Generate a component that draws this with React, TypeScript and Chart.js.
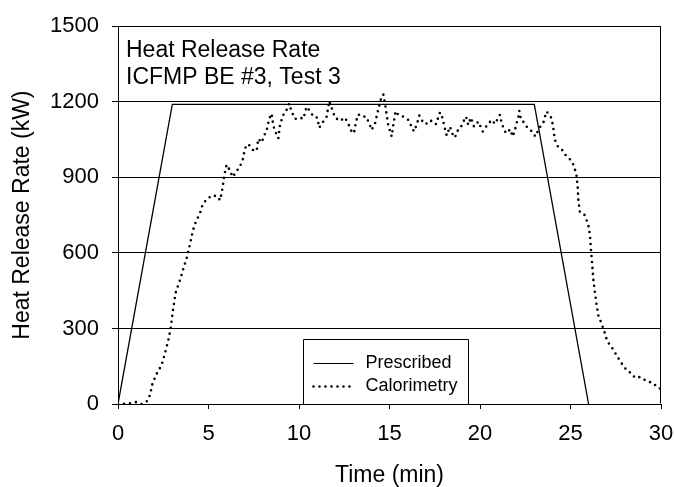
import React, { useEffect, useRef } from "react";
import { Chart, registerables } from "chart.js";

Chart.register(...registerables);

const FONT = 'Arial, "Liberation Sans", sans-serif';

// Prescribed heat release rate (kW) vs time (min)
const prescribedTime = [0, 3, 23, 26];
const prescribedHRR = [0, 1190, 1190, 0];

// Calorimetry heat release rate (kW) vs time (min)
const calTime = [
  0, 0.2, 0.6, 1.03, 1.3, 1.62, 1.77, 1.91, 2.05, 2.19, 2.41, 2.6, 2.78, 2.91, 3.06, 3.19,
  3.43, 3.61, 3.83, 3.98, 4.13, 4.31, 4.53, 4.62, 4.81, 5.17, 5.49, 5.64, 5.78, 5.86, 6.0,
  6.19, 6.33, 6.55, 6.74, 6.89, 7.02, 7.2, 7.44, 7.66, 7.75, 7.94, 8.07, 8.21, 8.36, 8.49,
  8.58, 8.71, 8.86, 8.95, 9.13, 9.23, 9.35, 9.46, 9.59, 9.78, 10.06, 10.24, 10.42, 10.64,
  10.79, 11.01, 11.12, 11.31, 11.53, 11.67, 11.8, 11.99, 12.27, 12.54, 12.73, 12.91, 13.04,
  13.15, 13.28, 13.46, 13.7, 13.89, 14.01, 14.2, 14.34, 14.51, 14.66, 14.77, 14.93, 15.12,
  15.21, 15.34, 15.49, 15.76, 16.04, 16.22, 16.35, 16.5, 16.65, 16.83, 17.02, 17.14, 17.38,
  17.57, 17.79, 17.94, 18.01, 18.16, 18.34, 18.49, 18.62, 18.71, 18.9, 19.08, 19.23, 19.35,
  19.5, 19.67, 19.91, 20.15, 20.4, 20.65, 20.83, 20.96, 21.1, 21.2, 21.38, 21.51, 21.66,
  21.81, 21.93, 22.03, 22.12, 22.17, 22.27, 22.39, 22.58, 22.76, 22.94, 23.06, 23.27, 23.5,
  23.59, 23.68, 23.83, 23.96, 24.05, 24.14, 24.27, 24.51, 24.7, 24.93, 25.16, 25.25, 25.34,
  25.4, 25.43, 25.52, 25.76, 25.98, 26.08, 26.13, 26.19, 26.26, 26.35, 26.45, 26.54, 26.72,
  26.91, 27.03, 27.27, 27.55, 27.77, 28.1, 28.38, 28.56, 28.84, 29.2, 29.54, 29.85, 30,
];
const calHRR = [
  0, 0, 2, 8, 0, 12, 36, 83, 105, 128, 154, 203, 253, 300, 384, 443,
  493, 537, 588, 635, 687, 726, 757, 782, 805, 828, 825, 809, 858, 904, 950,
  927, 901, 924, 943, 970, 1016, 1032, 1009, 1005, 1053, 1038, 1065, 1086, 1134, 1153,
  1105, 1079, 1055, 1108, 1148, 1153, 1174, 1193, 1161, 1132, 1137, 1132, 1180, 1161,
  1141, 1137, 1097, 1118, 1141, 1203, 1176, 1137, 1124, 1137, 1111, 1082, 1075,
  1121, 1150, 1141, 1141, 1114, 1088, 1114, 1158, 1207, 1229, 1184, 1108, 1062,
  1108, 1163, 1148, 1141, 1128, 1101, 1082, 1108, 1145, 1121, 1111, 1124, 1124,
  1111, 1158, 1134, 1108, 1066, 1101, 1071, 1058, 1082, 1092, 1121, 1141, 1108,
  1137, 1101, 1121, 1082, 1108, 1128, 1112, 1130, 1148, 1114, 1082, 1075, 1091,
  1062, 1088, 1117, 1141, 1164, 1128, 1121, 1101, 1091, 1075, 1062, 1095, 1117,
  1141, 1161, 1148, 1134, 1095, 1049, 1025, 1012, 990, 976, 950, 930, 904,
  858, 812, 762, 753, 713, 667, 615, 562, 496, 443, 391, 351, 318,
  279, 249, 226, 193, 167, 134, 121, 104, 107, 91, 84, 64, 60,
];

const xMin = 0;
const xMax = 30;
const xStep = 5;
const yMin = 0;
const yMax = 1500;
const yStep = 300;

const chartTitleLines = ["Heat Release Rate", "ICFMP BE #3, Test 3"];
const xTitle = "Time (min)";
const yTitle = "Heat Release Rate (kW)";
const seriesNames = ["Prescribed", "Calorimetry"];

const CANVAS_W = 674;
const CANVAS_H = 500;

const overlayPlugin = {
  id: "overlay",
  afterDatasetsDraw(chart: any) {
    const { ctx, chartArea: a } = chart;
    ctx.save();
    // plot frame (right side; top is the 1500 gridline)
    ctx.strokeStyle = "#000";
    ctx.lineWidth = 1;
    const t = Math.round(a.top) + 0.5;
    const r = Math.round(a.right) - 0.5;
    const b = Math.round(a.bottom) - 0.5;
    ctx.beginPath();
    ctx.moveTo(r, t);
    ctx.lineTo(r, b);
    ctx.stroke();

    // in-plot title text
    ctx.fillStyle = "#000";
    ctx.font = `23px ${FONT}`;
    ctx.textAlign = "left";
    ctx.textBaseline = "alphabetic";
    chartTitleLines.forEach((line, i) => {
      ctx.fillText(line, a.left + 8, a.top + 31 + i * 27);
    });

    // legend box
    const bx = Math.round(a.left + 185) + 0.5;
    const by = Math.round(a.bottom - 65) + 0.5;
    const bw = 165;
    const bh = Math.round(a.bottom) - by;
    ctx.fillStyle = "#fff";
    ctx.fillRect(bx, by, bw, bh);
    ctx.strokeStyle = "#000";
    ctx.lineWidth = 1;
    ctx.beginPath();
    ctx.moveTo(bx, Math.round(a.bottom));
    ctx.lineTo(bx, by);
    ctx.lineTo(bx + bw, by);
    ctx.lineTo(bx + bw, Math.round(a.bottom));
    ctx.stroke();

    chart.data.datasets.forEach((ds: any, i: number) => {
      const y = by + 23 + i * 23;
      ctx.save();
      ctx.strokeStyle = ds.borderColor;
      ctx.lineWidth = i === 0 ? 1 : ds.borderWidth;
      ctx.lineCap = ds.borderCapStyle || "butt";
      ctx.setLineDash(ds.borderDash || []);
      ctx.beginPath();
      ctx.moveTo(bx + 10, Math.round(y) + 0.5);
      ctx.lineTo(bx + 50, Math.round(y) + 0.5);
      ctx.stroke();
      ctx.restore();
      ctx.fillStyle = "#000";
      ctx.font = `18px ${FONT}`;
      ctx.textBaseline = "middle";
      ctx.textAlign = "left";
      ctx.fillText(ds.label, bx + 62, y + 1);
    });
    ctx.restore();
  },
};

export default function App() {
  const canvasRef = useRef<HTMLCanvasElement | null>(null);

  useEffect(() => {
    if (!canvasRef.current) return;
    Chart.defaults.font.family = FONT;
    Chart.defaults.color = "#000";

    const prescribed = prescribedTime.map((t, i) => ({ x: t, y: prescribedHRR[i] }));
    const calorimetry = calTime.map((t, i) => ({ x: t, y: calHRR[i] }));

    const chart = new Chart(canvasRef.current, {
      type: "line",
      data: {
        datasets: [
          {
            label: seriesNames[0],
            data: prescribed,
            borderColor: "#000",
            borderWidth: 1.3,
            pointRadius: 0,
            tension: 0,
            fill: false,
          },
          {
            label: seriesNames[1],
            data: calorimetry,
            borderColor: "#000",
            borderWidth: 2.6,
            borderDash: [0, 6],
            borderCapStyle: "round",
            pointRadius: 0,
            tension: 0,
            fill: false,
          },
        ],
      },
      options: {
        responsive: false,
        animation: false,
        devicePixelRatio: 1,
        layout: { padding: { top: 24, right: 0, left: 0, bottom: 0 } },
        plugins: {
          legend: { display: false },
          tooltip: { enabled: false },
          title: { display: false },
        },
        scales: {
          x: {
            type: "linear",
            min: xMin,
            max: xMax,
            afterFit: (scale: any) => {
              scale.height = 96;
              scale.paddingRight = 13;
            },
            ticks: {
              stepSize: xStep,
              font: { size: 22, family: FONT },
              color: "#000",
              padding: 12,
              maxRotation: 0,
              callback: (v: any) => String(v),
            },
            grid: {
              drawOnChartArea: false,
              drawTicks: true,
              tickLength: 5,
              color: "#000",
              lineWidth: 1,
            },
            border: { display: true, color: "#000", width: 1 },
            title: {
              display: true,
              text: xTitle,
              font: { size: 23, family: FONT },
              color: "#000",
              padding: { top: 0, bottom: 11 },
            },
          },
          y: {
            type: "linear",
            min: yMin,
            max: yMax,
            afterFit: (scale: any) => {
              scale.width = 118;
            },
            ticks: {
              stepSize: yStep,
              font: { size: 22, family: FONT },
              color: "#000",
              padding: 13,
              callback: (v: any) => String(v),
            },
            grid: {
              drawOnChartArea: true,
              drawTicks: true,
              tickLength: 6,
              color: "#000",
              lineWidth: 1,
            },
            border: { display: true, color: "#000", width: 1 },
            title: {
              display: true,
              text: yTitle,
              font: { size: 23, family: FONT },
              color: "#000",
              padding: { top: 9, bottom: 0 },
            },
          },
        },
      },
      plugins: [overlayPlugin],
    } as any);

    return () => chart.destroy();
  }, []);

  return (
    <div
      style={{
        position: "fixed",
        left: 0,
        top: 0,
        width: CANVAS_W,
        height: CANVAS_H,
        background: "#fff",
      }}
    >
      <canvas ref={canvasRef} width={CANVAS_W} height={CANVAS_H} style={{ display: "block" }} />
    </div>
  );
}
